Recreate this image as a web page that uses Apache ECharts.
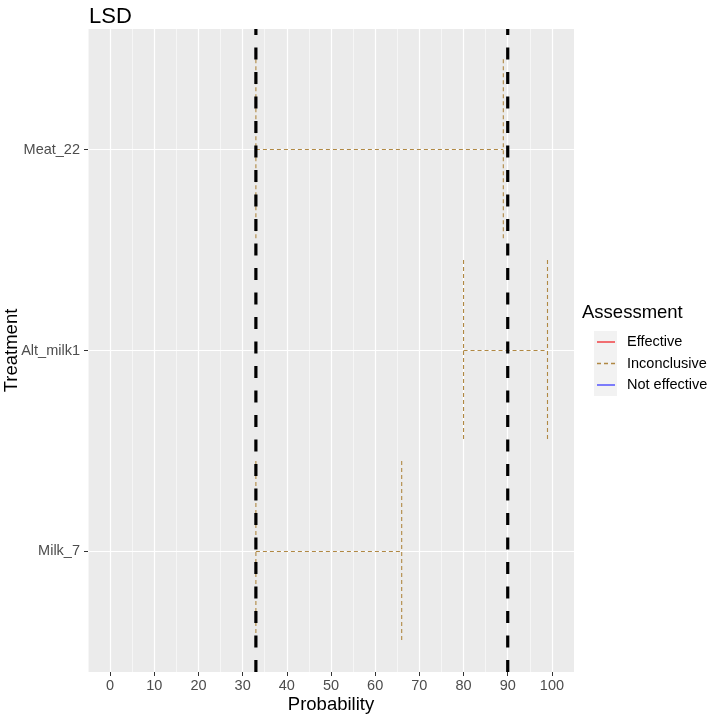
<!DOCTYPE html>
<html>
<head>
<meta charset="utf-8">
<script src="https://cdn.jsdelivr.net/npm/echarts@6/dist/echarts.min.js"></script>
<style>html,body{margin:0;padding:0;background:#fff}#c{width:709px;height:716px}</style>
</head>
<body>
<div id="c"></div>
<script>
// ---- data ----
var categories = ['Milk_7', 'Alt_milk1', 'Meat_22'];   // bottom -> top
var lowerProb = [33, 80, 33];
var upperProb = [66, 99, 89];
var assessment = ['Inconclusive', 'Inconclusive', 'Inconclusive'];
var thresholds = [33, 90];
var xTicks = [0, 10, 20, 30, 40, 50, 60, 70, 80, 90, 100];
var yTicks = [1, 2, 3];
var legendLabels = ['Effective', 'Inconclusive', 'Not effective'];

// ---- styles ----
var FONT = '"Liberation Sans", Arial, sans-serif';
var colorMap = { 'Effective': '#F0262A', 'Inconclusive': '#B08843', 'Not effective': '#3B3BFF' };
var dashMap = { 'Effective': null, 'Inconclusive': [4, 3], 'Not effective': null };

var chart = echarts.init(document.getElementById('c'), null, { renderer: 'canvas' });

var barData = categories.map(function (c, i) {
  return [i + 1, lowerProb[i], upperProb[i], assessment[i]];
});

var errorSeries = {
  type: 'custom',
  xAxisIndex: 0,
  yAxisIndex: 0,
  data: barData,
  z: 3,
  renderItem: function (params, api) {
    var y = api.value(0), lo = api.value(1), hi = api.value(2);
    var a = assessment[params.dataIndex];
    var half = 0.45;
    var style = { stroke: colorMap[a], lineWidth: 1.1, lineDash: dashMap[a], fill: null };
    var pL1 = api.coord([lo, y + half]), pL2 = api.coord([lo, y - half]);
    var pR1 = api.coord([hi, y + half]), pR2 = api.coord([hi, y - half]);
    var pM1 = api.coord([lo, y]), pM2 = api.coord([hi, y]);
    return {
      type: 'group',
      children: [
        { type: 'line', shape: { x1: pL1[0], y1: pL1[1], x2: pL2[0], y2: pL2[1] }, style: style },
        { type: 'line', shape: { x1: pM1[0], y1: pM1[1], x2: pM2[0], y2: pM2[1] }, style: style },
        { type: 'line', shape: { x1: pR1[0], y1: pR1[1], x2: pR2[0], y2: pR2[1] }, style: style }
      ]
    };
  }
};

var vlineSeries = {
  type: 'custom',
  xAxisIndex: 0,
  yAxisIndex: 0,
  data: thresholds.map(function (t) { return [t]; }),
  z: 5,
  renderItem: function (params, api) {
    var x = api.value(0);
    var p1 = api.coord([x, 0.4]), p2 = api.coord([x, 3.6]);
    return {
      type: 'line',
      shape: { x1: p1[0], y1: p1[1], x2: p2[0], y2: p2[1] },
      style: { stroke: '#000', lineWidth: 3.2, lineDash: [12, 12.5], fill: null }
    };
  }
};

// legend drawn as graphics (key background, lines, text)
var legendGraphics = [
  { type: 'text', left: 582, top: 303, style: { text: 'Assessment', font: '18.5px ' + FONT, fill: '#000' } },
  { type: 'rect', shape: { x: 594, y: 331, width: 23, height: 65 }, style: { fill: '#F2F2F2' } }
];
legendLabels.forEach(function (lab, i) {
  var cy = 342 + i * 21.5;
  legendGraphics.push({
    type: 'line',
    shape: { x1: 597, y1: cy, x2: 615, y2: cy },
    style: { stroke: colorMap[lab], lineWidth: 1.3, lineDash: dashMap[lab] }
  });
  legendGraphics.push({
    type: 'text', x: 627, y: cy,
    style: { text: lab, font: '14.5px ' + FONT, fill: '#000', textVerticalAlign: 'middle' }
  });
});

var option = {
  backgroundColor: '#fff',
  animation: false,
  textStyle: { fontFamily: FONT },
  grid: {
    left: 88, right: 135, top: 29, bottom: 44, show: true, backgroundColor: '#EBEBEB', borderWidth: 0,
    containLabel: false, outerBoundsMode: 'none'
  },
  title: {
    text: 'LSD', left: 84, top: 1,
    textStyle: { fontSize: 22, fontWeight: 'normal', color: '#000', fontFamily: FONT }
  },
  xAxis: [
    {
      type: 'value', min: -5, max: 105,
      name: 'Probability', nameLocation: 'middle', nameGap: 23, nameMoveOverlap: false,
      nameTextStyle: { fontSize: 18.5, color: '#000', fontFamily: FONT },
      axisLine: { show: false, onZero: false },
      axisTick: { show: true, length: 4, lineStyle: { color: '#333', width: 1 }, customValues: xTicks },
      axisLabel: { customValues: xTicks, color: '#4D4D4D', fontSize: 14.5, margin: 6, fontFamily: FONT },
      splitLine: { show: true, lineStyle: { color: '#FFFFFF', width: 1.2 } }
    },
    {
      type: 'value', min: -5, max: 105, interval: 10,
      axisLine: { show: false, onZero: false }, axisTick: { show: false }, axisLabel: { show: false },
      splitLine: { show: true, lineStyle: { color: '#FFFFFF', width: 0.55 } }
    }
  ],
  yAxis: {
    type: 'value', min: 0.4, max: 3.6,
    name: 'Treatment', nameLocation: 'middle', nameGap: 67, nameRotate: 90, nameMoveOverlap: false,
    nameTextStyle: { fontSize: 18.5, color: '#000', fontFamily: FONT },
    axisLine: { show: false, onZero: false },
    axisTick: { show: true, length: 4, lineStyle: { color: '#333', width: 1 }, customValues: yTicks },
    axisLabel: {
      customValues: yTicks, color: '#4D4D4D', fontSize: 14.5, margin: 8, fontFamily: FONT,
      formatter: function (v) { return categories[Math.round(v) - 1] || ''; }
    },
    splitLine: { show: true, lineStyle: { color: '#FFFFFF', width: 1.2 } }
  },
  series: [errorSeries, vlineSeries],
  graphic: legendGraphics
};
chart.setOption(option);
</script>
</body>
</html>
